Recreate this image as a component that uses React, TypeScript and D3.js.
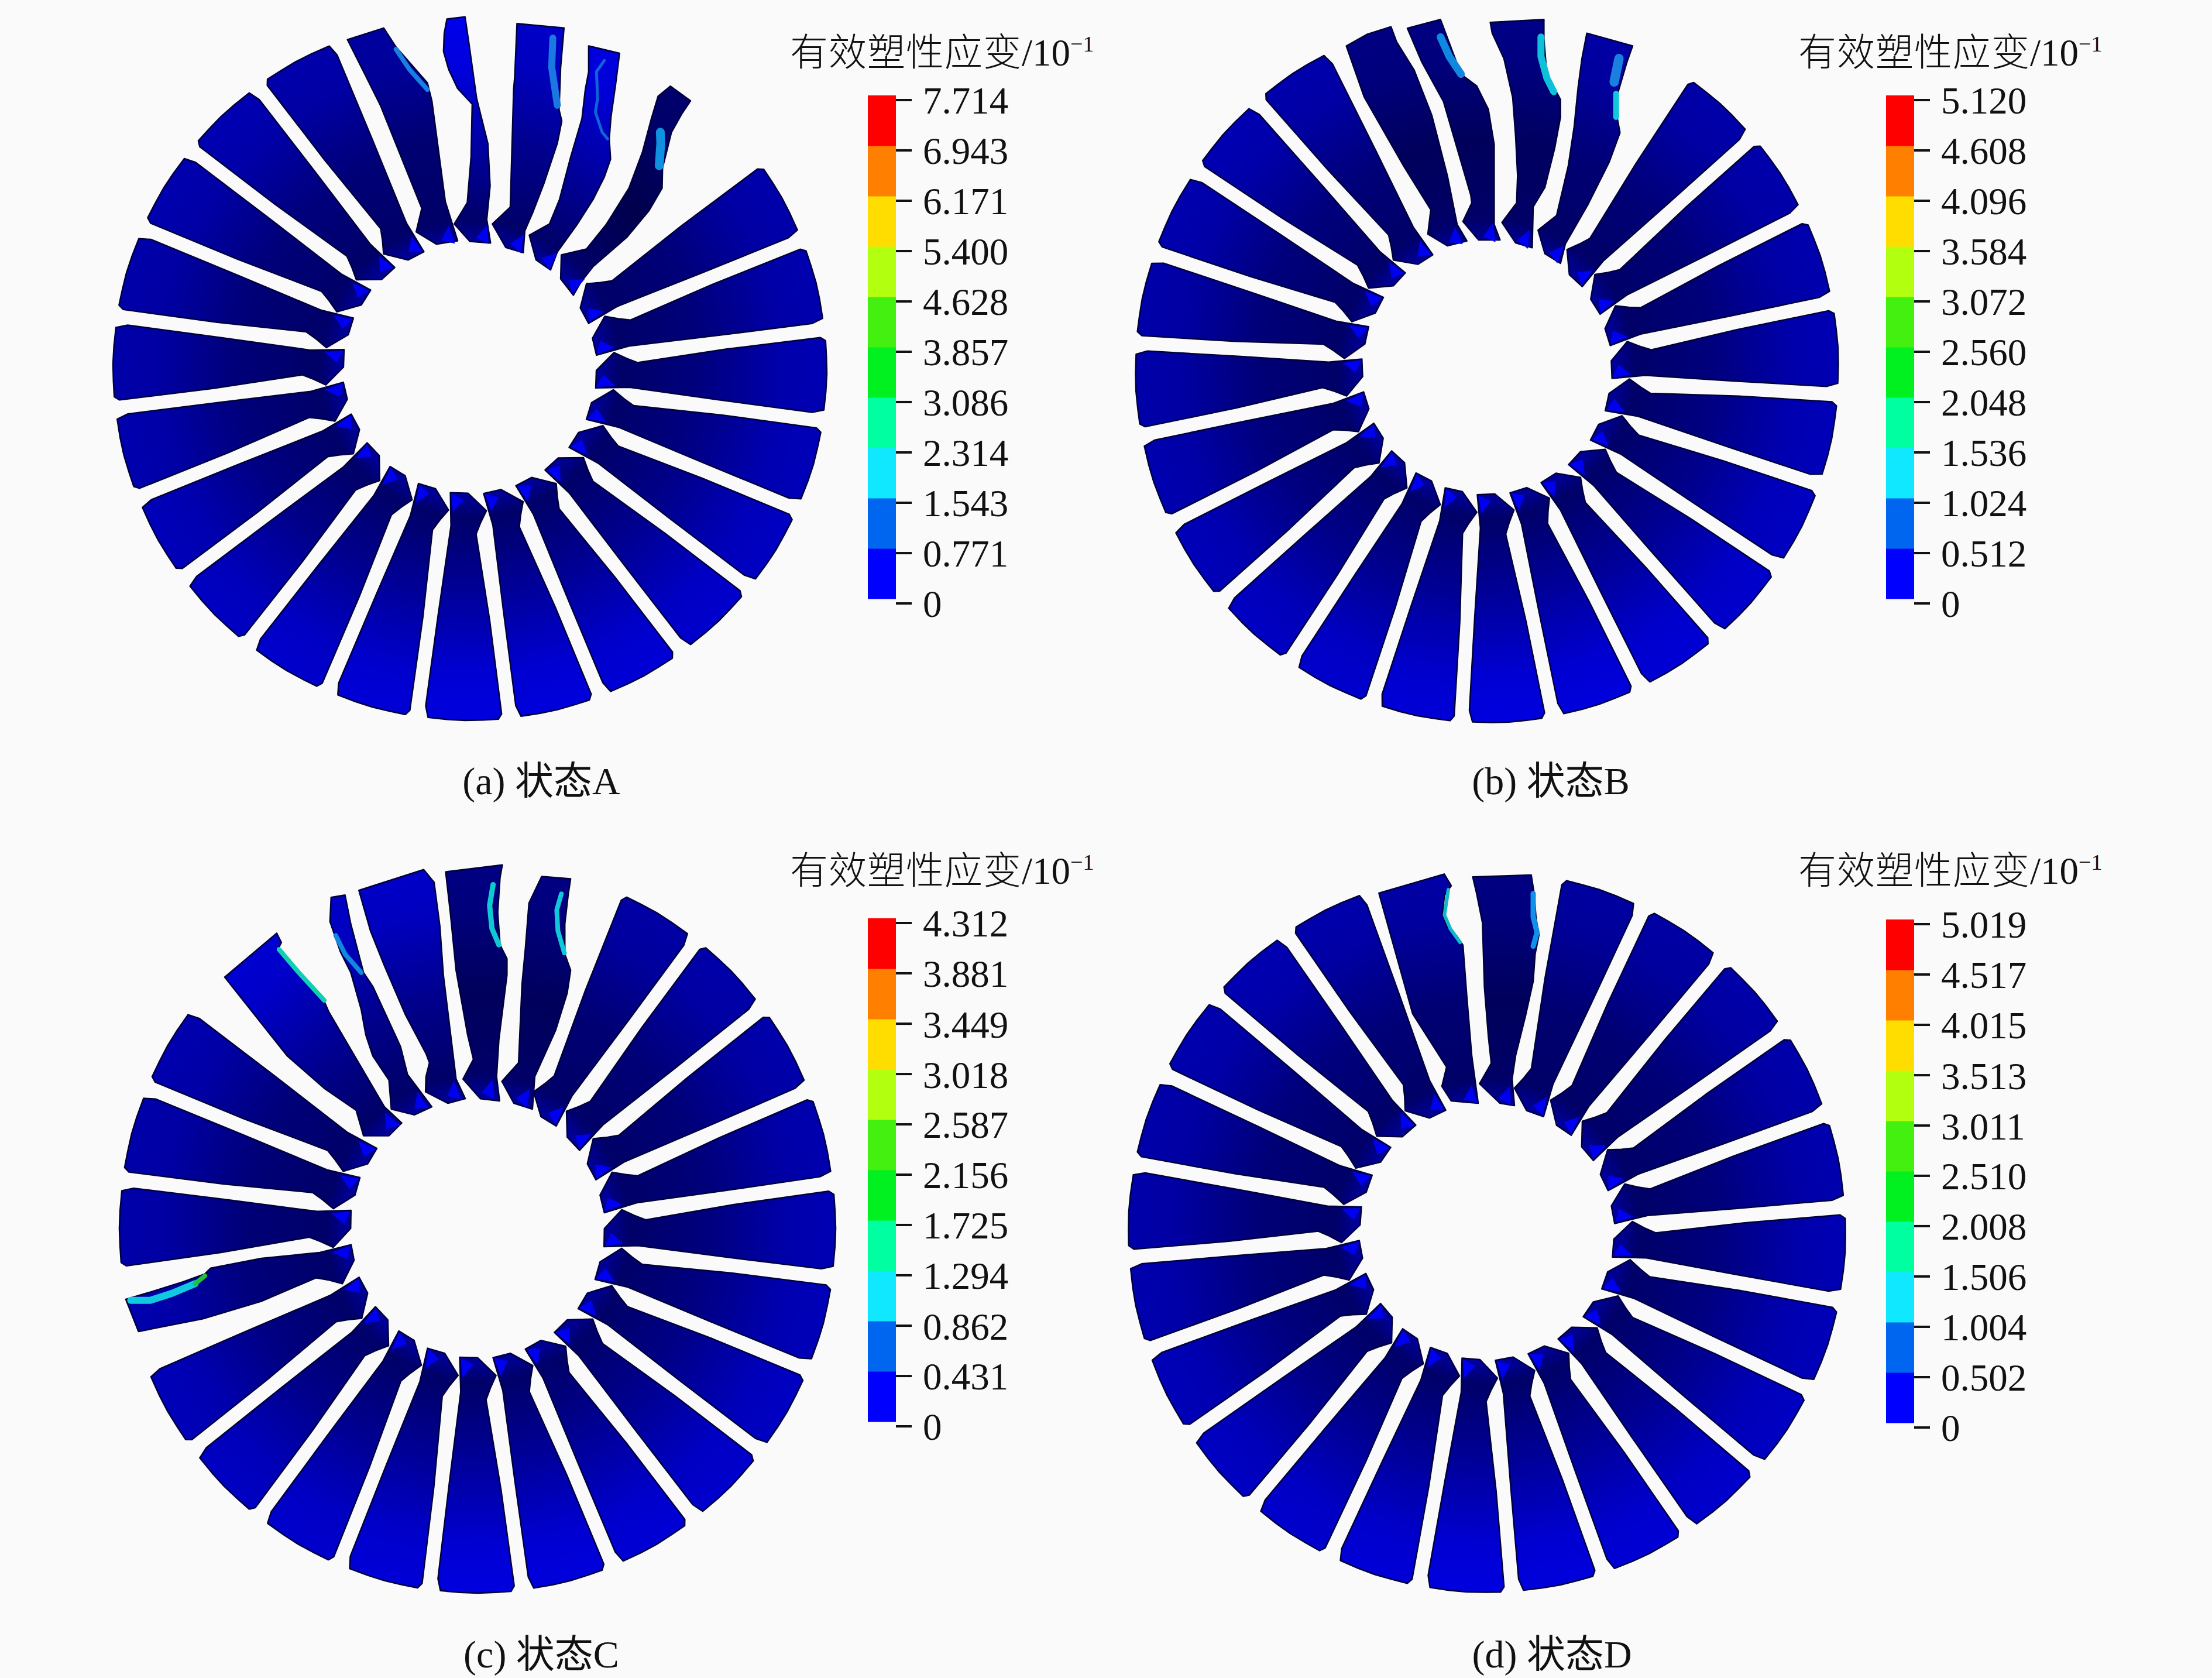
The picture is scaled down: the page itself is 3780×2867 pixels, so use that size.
import React from "react";
import * as d3 from "d3";

type P = [number, number];

// ---- legend data ----
const legendTitle = "有效塑性应变";
const legendColors = ["#0000ff", "#0066f0", "#10e8ff", "#00ffa0", "#00f020", "#44f010", "#b2ff10", "#ffdd00", "#ff7f00", "#ff0000"];
const ticksA = ["0", "0.771", "1.543", "2.314", "3.086", "3.857", "4.628", "5.400", "6.171", "6.943", "7.714"];
const ticksB = ["0", "0.512", "1.024", "1.536", "2.048", "2.560", "3.072", "3.584", "4.096", "4.608", "5.120"];
const ticksC = ["0", "0.431", "0.862", "1.294", "1.725", "2.156", "2.587", "3.018", "3.449", "3.881", "4.312"];
const ticksD = ["0", "0.502", "1.004", "1.506", "2.008", "2.510", "3.011", "3.513", "4.015", "4.517", "5.019"];

// ---- typical blade outline: [radial fraction, lateral fraction (+ = clockwise)] ----
const bladeProfile: P[] = [
  [0.356, 0], [0.405, -0.052], [0.44, -0.036], [0.472, -0.024], [0.72, -0.066], [0.985, -0.103],
  [1.0, -0.094], [1.003, -0.05], [1.005, 0], [1.003, 0.05], [0.998, 0.104], [0.965, 0.111],
  [0.7, 0.079], [0.45, 0.047], [0.355, 0.05],
];
const hubGlowProfile: P[] = [[0.375, 0.012], [0.357, 0.047], [0.41, 0.042]];
// blue level of the blade tips, going clockwise from the top of the disc
const tipBlue = [160, 160, 165, 170, 172, 175, 180, 185, 195, 205, 214, 220, 222, 215, 205, 195, 185, 175, 170, 170, 175, 178, 172, 165];

// ---- damaged blades, traced in the units of a crop of the picture ----
const bladeA23: P[] = [[-147, 177], [15, 125], [70, 210], [210, 370], [230, 450], [290, 900], [345, 1075], [250, 1090], [160, 1035], [185, 930], [0, 470], [-70, 330]];
const bladeA0: P[] = [[297, 85], [378, 75], [395, 190], [430, 440], [480, 640], [490, 830], [475, 980], [492, 1085], [400, 1078], [330, 1000], [388, 905], [405, 700], [410, 465], [345, 395], [305, 310], [282, 230], [285, 150]];
const bladeA1: P[] = [[610, 105], [820, 125], [805, 300], [798, 490], [810, 540], [790, 640], [730, 820], [680, 950], [645, 1030], [638, 1128], [560, 1105], [500, 1000], [580, 925], [595, 400], [600, 340]];
const bladeA2: P[] = [[930, 205], [1068, 238], [1050, 380], [1030, 520], [1022, 620], [1028, 710], [1000, 790], [950, 890], [880, 1000], [790, 1125], [760, 1205], [695, 1160], [665, 1050], [755, 1000], [800, 890], [850, 700], [900, 530], [915, 400], [930, 320]];
const bladeA3: P[] = [[1295, 385], [1385, 450], [1345, 510], [1300, 590], [1260, 750], [1258, 840], [1200, 940], [1100, 1060], [950, 1190], [895, 1260], [862, 1318], [805, 1245], [808, 1138], [920, 1112], [1010, 1000], [1110, 840], [1170, 680], [1210, 530], [1240, 430]];

const bladeB22: P[] = [[-148, 236], [-40, 175], [81, 137], [110, 215], [200, 360], [290, 590], [370, 900], [420, 1150], [470, 1235], [370, 1260], [270, 1200], [285, 1075], [143, 846], [-56, 498]];
const bladeB23: P[] = [[165, 145], [335, 100], [440, 380], [520, 440], [580, 560], [610, 740], [610, 1150], [640, 1230], [530, 1230], [450, 1135], [495, 1040], [490, 1000], [420, 760], [350, 520], [240, 320]];
const bladeB0: P[] = [[590, 115], [865, 100], [865, 200], [880, 380], [950, 510], [950, 600], [920, 760], [870, 960], [810, 1060], [805, 1270], [720, 1245], [650, 1140], [725, 1040], [730, 900], [720, 700], [705, 500], [660, 300], [600, 170]];
const bladeB1: P[] = [[1085, 170], [1320, 235], [1290, 320], [1240, 490], [1240, 600], [1255, 680], [1200, 830], [1090, 1050], [975, 1250], [950, 1350], [870, 1300], [835, 1180], [930, 1105], [990, 850], [1020, 650], [1040, 450], [1060, 300]];

const bladeC21: P[] = [[10, 530], [235, 340], [255, 380], [240, 410], [430, 610], [460, 680], [700, 1090], [775, 1160], [720, 1215], [610, 1215], [578, 1105], [440, 1010], [280, 870]];
const bladeC22: P[] = [[470, 185], [530, 175], [555, 300], [610, 510], [650, 570], [770, 830], [800, 950], [905, 1090], [830, 1125], [730, 1100], [720, 975], [650, 870], [620, 780], [600, 670], [555, 510], [510, 420], [465, 290]];
const bladeC23: P[] = [[590, 155], [870, 65], [915, 120], [940, 310], [955, 520], [1010, 970], [1050, 1055], [975, 1075], [878, 1025], [880, 960], [895, 900], [880, 860], [790, 690], [700, 480], [640, 330]];
const bladeC0: P[] = [[965, 75], [1210, 45], [1200, 100], [1190, 250], [1200, 390], [1230, 450], [1230, 520], [1195, 800], [1185, 960], [1198, 1065], [1115, 1055], [1040, 970], [1085, 885], [1060, 780], [1010, 500], [985, 250]];
const bladeC1: P[] = [[1380, 95], [1505, 105], [1495, 170], [1480, 300], [1480, 430], [1505, 500], [1490, 600], [1440, 760], [1350, 960], [1340, 1100], [1260, 1075], [1208, 980], [1280, 900], [1295, 560], [1310, 400], [1325, 210]];
const bladeC17: P[] = [[105, 720], [240, 680], [400, 630], [510, 590], [540, 560], [800, 510], [1100, 480], [1260, 440], [1275, 520], [1215, 640], [1140, 620], [1080, 610], [800, 730], [500, 820], [170, 885]];

const bladeD23: P[] = [[-131, 168], [204, 70], [240, 130], [205, 180], [195, 280], [220, 340], [270, 390], [300, 435], [320, 700], [345, 1000], [378, 1245], [240, 1233], [192, 1158], [216, 1059], [42, 786]];
const bladeD0: P[] = [[350, 85], [650, 75], [665, 170], [675, 300], [690, 380], [670, 480], [660, 620], [620, 800], [570, 1000], [552, 1120], [564, 1257], [490, 1245], [385, 1145], [445, 1040], [430, 900], [410, 650], [400, 320], [370, 170]];

// ---- strain streaks on the damaged blades ----
const streakA1: P[] = [[770, 170], [765, 300], [790, 470]];
const streakA2: P[] = [[1000, 270], [965, 320], [970, 440], [960, 500], [990, 590], [1015, 620]];
const streakA3: P[] = [[1250, 590], [1252, 640], [1245, 740]];
const streakA23: P[] = [[70, 220], [130, 310], [210, 400]];
const streakB23: P[] = [[335, 190], [380, 290], [440, 380]];
const streakB0: P[] = [[850, 190], [850, 290], [880, 400], [915, 470]];
const streakB1a: P[] = [[1250, 300], [1225, 420]];
const streakB1b: P[] = [[1235, 480], [1235, 600]];
const streakC21: P[] = [[245, 410], [330, 510], [440, 630]];
const streakC22: P[] = [[490, 350], [530, 430], [600, 510]];
const streakC0: P[] = [[1170, 130], [1155, 220], [1165, 320], [1195, 390]];
const streakC1: P[] = [[1465, 170], [1445, 240], [1450, 330], [1478, 425]];
const streakC17a: P[] = [[130, 725], [230, 725], [340, 690], [460, 640]];
const streakC17b: P[] = [[460, 640], [510, 600]];
const streakD23: P[] = [[225, 150], [205, 280], [235, 350], [285, 420]];
const streakD0: P[] = [[660, 170], [660, 290], [680, 370], [660, 440]];

const panels = [
  {
    id: "a", caption: "(a) ", state: "状态A", ticks: ticksA, baseAngle: 0.8,
    cx: 803, cy: 630, rx: 607, ry: 598, barX: 1483, barTop: 163, titleX: 1350, titleY: 89, capX: 925, capY: 1333,
    crop: { x: 650, y: 0, k: 2.613 },
    damaged: [
      { k: 23, tip: 160, outline: bladeA23 }, { k: 0, tip: 235, outline: bladeA0 },
      { k: 1, tip: 200, outline: bladeA1 }, { k: 2, tip: 225, outline: bladeA2 }, { k: 3, tip: 110, outline: bladeA3 },
    ],
    streaks: [
      { pts: streakA1, color: "#1a78e0", w: 12 }, { pts: streakA2, color: "#0f64d8", w: 5 },
      { pts: streakA3, color: "#1090e0", w: 15 }, { pts: streakA23, color: "#1a80e0", w: 8 },
    ],
  },
  {
    id: "b", caption: "(b) ", state: "状态B", ticks: ticksB, baseAngle: 11.4,
    cx: 2541, cy: 630, rx: 598, ry: 602, barX: 3223, barTop: 163, titleX: 3073, titleY: 89, capX: 2650, capY: 1333,
    crop: { x: 2350, y: 0, k: 3 },
    damaged: [
      { k: 22, tip: 130, outline: bladeB22 }, { k: 23, tip: 130, outline: bladeB23 },
      { k: 0, tip: 135, outline: bladeB0 }, { k: 1, tip: 165, outline: bladeB1 },
    ],
    streaks: [
      { pts: streakB23, color: "#1088e0", w: 13 }, { pts: streakB0, color: "#10c0d8", w: 12 },
      { pts: streakB1a, color: "#1a80e0", w: 16 }, { pts: streakB1b, color: "#10c8d8", w: 10 },
    ],
  },
  {
    id: "c", caption: "(c) ", state: "状态C", ticks: ticksC, baseAngle: 0,
    cx: 816, cy: 2099, rx: 609, ry: 620, barX: 1483, barTop: 1569, titleX: 1350, titleY: 1487, capX: 925, capY: 2825,
    crop: { x: 380, y: 1460, k: 2.529 },
    damaged: [
      { k: 21, tip: 210, outline: bladeC21 }, { k: 22, tip: 200, outline: bladeC22 },
      { k: 23, tip: 200, outline: bladeC23 }, { k: 0, tip: 130, outline: bladeC0 }, { k: 1, tip: 130, outline: bladeC1 },
    ],
    streaks: [
      { pts: streakC21, color: "#10d0b0", w: 8 }, { pts: streakC22, color: "#1088e0", w: 8 },
      { pts: streakC0, color: "#10c8d0", w: 9 }, { pts: streakC1, color: "#10c8d8", w: 8 },
    ],
  },
  {
    id: "d", caption: "(d) ", state: "状态D", ticks: ticksD, baseAngle: 3.2,
    cx: 2541, cy: 2105, rx: 610, ry: 613, barX: 3223, barTop: 1571, titleX: 3073, titleY: 1487, capX: 2652, capY: 2825,
    crop: { x: 2400, y: 1470, k: 3 },
    damaged: [{ k: 23, tip: 165, outline: bladeD23 }, { k: 0, tip: 130, outline: bladeD0 }],
    streaks: [{ pts: streakD23, color: "#10b8c8", w: 6 }, { pts: streakD0, color: "#1090e8", w: 9 }],
  },
];

// the lower-left blade of panel C is traced on a separate crop
const extraCrop = { x: 180, y: 1980, k: 3 };
const extraStreaks = [
  { pts: streakC17a, color: "#10c8e0", w: 12 },
  { pts: streakC17b, color: "#20c040", w: 8 },
];

const serif = "'Liberation Serif', 'Noto Sans CJK SC', serif";
const BG = "#fafafa";
const close = d3.line<P>().x((d) => d[0]).y((d) => d[1]);

function Disc({ p }: { p: (typeof panels)[number] }) {
  const x = d3.scaleLinear().domain([-1, 1]).range([p.cx - p.rx, p.cx + p.rx]);
  const y = d3.scaleLinear().domain([-1, 1]).range([p.cy - p.ry, p.cy + p.ry]);
  const angle = d3.scaleLinear().domain([0, 24]).range([p.baseAngle, p.baseAngle + 360]);
  const blades = d3.range(24);
  const project = (k: number, [u, lat]: P): P => {
    const t = (angle(k) * Math.PI) / 180;
    return [x(u * Math.sin(t) + lat * Math.cos(t)), y(-u * Math.cos(t) + lat * Math.sin(t))];
  };
  const cropPts = (pts: P[], c: { x: number; y: number; k: number }): P[] => {
    const sx = d3.scaleLinear().domain([0, 1]).range([c.x, c.x + 1 / c.k]);
    const sy = d3.scaleLinear().domain([0, 1]).range([c.y, c.y + 1 / c.k]);
    return pts.map(([a, b]) => [sx(a), sy(b)]);
  };
  const tipOf = (k: number) => {
    const idx = Math.round((((angle(k) % 360) + 360) % 360) / 15) % 24;
    return tipBlue[idx];
  };
  return (
    <g>
      <defs>
        {blades.map((k) => {
          const dm = p.damaged.find((d) => d.k === k);
          const b = dm ? dm.tip : tipOf(k);
          const a = project(k, [0.36, 0]);
          const e = project(k, [1, 0]);
          return (
            <linearGradient key={k} id={`g${p.id}${k}`} gradientUnits="userSpaceOnUse" x1={a[0]} y1={a[1]} x2={e[0]} y2={e[1]}>
              <stop offset="0" stopColor="#00009c" />
              <stop offset="0.1" stopColor="#000068" />
              <stop offset="0.45" stopColor={`rgb(0,0,${Math.round(b * 0.7)})`} />
              <stop offset="0.8" stopColor={`rgb(0,0,${Math.round(b * 0.95)})`} />
              <stop offset="1" stopColor={`rgb(0,0,${b})`} />
            </linearGradient>
          );
        })}
      </defs>
      {blades.map((k) => {
        const dm = p.damaged.find((d) => d.k === k);
        let pts: P[];
        if (p.id === "c" && k === 17) pts = cropPts(bladeC17, extraCrop);
        else if (dm) pts = cropPts(dm.outline, p.crop);
        else pts = bladeProfile.map((q) => project(k, q));
        return (
          <g key={k}>
            <path d={close(pts) + "Z"} fill={`url(#g${p.id}${k})`} stroke="#00003a" strokeWidth={2.5} strokeLinejoin="round" />
            <path d={close(hubGlowProfile.map((q) => project(k, q))) + "Z"} fill="#0000f0" />
          </g>
        );
      })}
      {p.streaks.map((s, i) => (
        <path key={i} d={close(cropPts(s.pts, p.crop)) ?? ""} fill="none" stroke={s.color} strokeWidth={s.w} strokeLinecap="round" strokeLinejoin="round" />
      ))}
      {p.id === "c" &&
        extraStreaks.map((s, i) => (
          <path key={i} d={close(cropPts(s.pts, extraCrop)) ?? ""} fill="none" stroke={s.color} strokeWidth={s.w} strokeLinecap="round" strokeLinejoin="round" />
        ))}
    </g>
  );
}

function Legend({ p }: { p: (typeof panels)[number] }) {
  const values = p.ticks.map(Number);
  const max = d3.max(values) as number;
  const tickY = d3.scaleLinear().domain([0, max]).range([p.barTop + 868, p.barTop + 8]);
  const barH = 860 / legendColors.length;
  const barW = 48;
  return (
    <g>
      {legendColors.map((c, i) => (
        <rect key={i} x={p.barX} y={p.barTop + 860 - (i + 1) * barH} width={barW} height={barH + 0.5} fill={c} />
      ))}
      {p.ticks.map((t, i) => (
        <g key={t}>
          <line x1={p.barX + barW} x2={p.barX + barW + 27} y1={tickY(values[i])} y2={tickY(values[i])} stroke="#111" strokeWidth={4} />
          <text x={p.barX + barW + 46} y={tickY(values[i]) + 2} dy="0.33em" fontFamily={serif} fontSize={65} fill="#111">{t}</text>
        </g>
      ))}
      <text x={p.titleX} y={p.titleY} dy="0.36em" fontFamily={serif} fontSize={65} fill="#111">
        <tspan fontWeight={300} letterSpacing={1}>{legendTitle}</tspan>
        <tspan>/10</tspan>
        <tspan fontSize={38} dy={-24}>−1</tspan>
      </text>
      <text x={p.capX} y={p.capY} dy="0.36em" textAnchor="middle" fontFamily={serif} fontSize={66} fill="#111">
        {p.caption + p.state}
      </text>
    </g>
  );
}

export default function App() {
  return (
    <svg width={3780} height={2867} viewBox="0 0 3780 2867" style={{ position: "absolute", left: 0, top: 0, background: BG }}>
      <rect width={3780} height={2867} fill={BG} />
      {panels.map((p) => (
        <g key={p.id}>
          <Disc p={p} />
          <Legend p={p} />
        </g>
      ))}
    </svg>
  );
}
